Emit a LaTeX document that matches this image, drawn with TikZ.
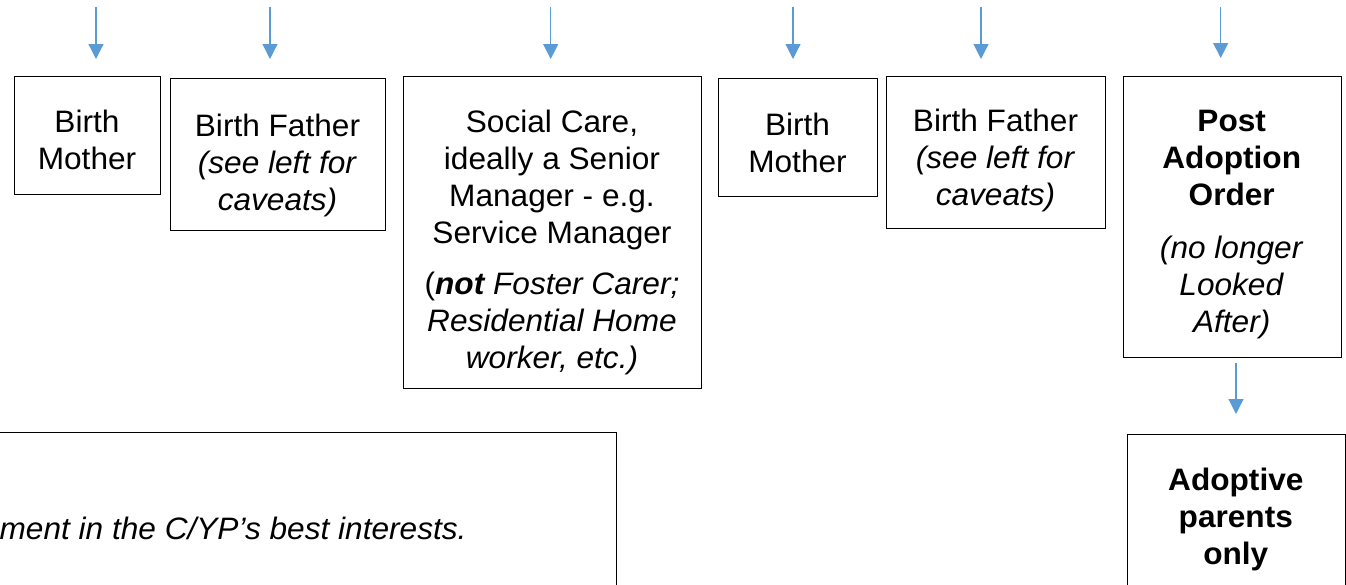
\documentclass[tikz,border=0pt]{standalone}
\usepackage{fontspec}
\setmainfont[FakeStretch=1.02]{Liberation Sans}
\usetikzlibrary{arrows.meta}
\definecolor{arrowblue}{HTML}{5B9BD5}
\tikzset{
  panel/.style={draw=black, line width=1pt, inner sep=0pt, anchor=north west},
  % multi-line texts are placed by the baseline of their last line
  boxtext/.style={align=center, anchor=base, inner sep=0pt,
    font=\fontsize{31}{37}\selectfont},
  flow/.style={draw=arrowblue, line width=1.2pt,
    -{Triangle[width=15pt,length=15pt,fill=arrowblue]}},
}
\begin{document}
\begin{tikzpicture}[x=1pt,y=-1pt]
\useasboundingbox (0,0) rectangle (1346,584);
\clip (0,0) rectangle (1346,584);

% boxes
\node[panel, minimum width=146pt, minimum height=118pt] (mother1) at (14,76) {};
\node[panel, minimum width=215pt, minimum height=152pt] (father1) at (170,78) {};
\node[panel, minimum width=298pt, minimum height=312pt] (social) at (402.7,76) {};
\node[panel, minimum width=159pt, minimum height=118pt] (mother2) at (718,78) {};
\node[panel, minimum width=219pt, minimum height=152pt] (father2) at (886,76) {};
\node[panel, minimum width=218pt, minimum height=281pt] (postorder) at (1122.7,76) {};
\node[panel, minimum width=218.3pt, minimum height=190pt] (adoptive) at (1126.7,434) {};
\node[panel, minimum width=636pt, minimum height=190pt] (note) at (-20,432) {};

% texts
\node[boxtext] (mother1t) at (87,169) {Birth\\Mother};
\node[boxtext] (father1t) at (277.5,210) {Birth Father\\\textit{(see left for}\\\textit{caveats)}};
\node[boxtext] (socialt) at (552,368) {Social Care,\\ideally a Senior\\Manager - e.g.\\Service Manager\\[14pt]({\bfseries\itshape not} \textit{Foster Carer;}\\\textit{Residential Home}\\\textit{worker, etc.)}};
\node[boxtext] (mother2t) at (797.5,172) {Birth\\Mother};
\node[boxtext] (father2t) at (995.5,205) {Birth Father\\\textit{(see left for}\\\textit{caveats)}};
\node[boxtext] (postordert) at (1231.7,332) {\textbf{Post}\\\textbf{Adoption}\\\textbf{Order}\\[16pt]\textit{(no longer}\\\textit{Looked}\\\textit{After)}};
\node[boxtext] (adoptivet) at (1235.8,564) {\textbf{Adoptive}\\\textbf{parents}\\\textbf{only}};
\node[boxtext, anchor=base east] (notet) at (466.7,539) {\textit{ment in the C/YP’s best interests.}};

% arrow ends
\coordinate (s1) at (96,7);      \coordinate (e1) at (96,59);
\coordinate (s2) at (270,7);     \coordinate (e2) at (270,59);
\coordinate (s3) at (550.7,7);   \coordinate (e3) at (550.7,59);
\coordinate (s4) at (793,7);     \coordinate (e4) at (793,59);
\coordinate (s5) at (981,7);     \coordinate (e5) at (981,59);
\coordinate (s6) at (1220.7,7);  \coordinate (e6) at (1220.7,58);
\coordinate (s7) at (1236,363);  \coordinate (e7) at (1236,414);

\foreach \i in {1,...,7} \draw[flow] (s\i) -- (e\i);
\end{tikzpicture}
\end{document}
